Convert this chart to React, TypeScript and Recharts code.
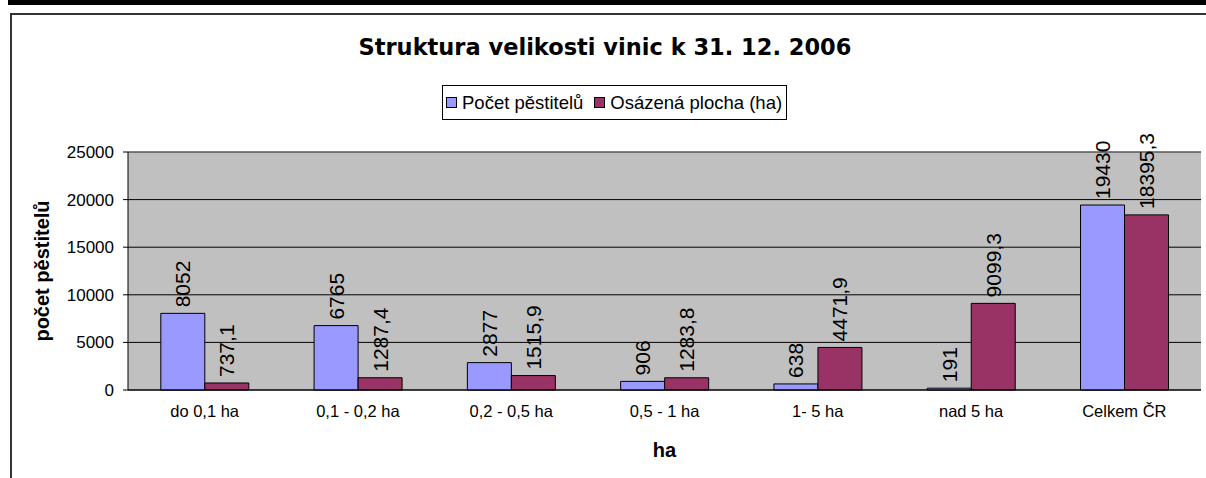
import React from "react";
import {
  BarChart,
  Bar,
  XAxis,
  YAxis,
  CartesianGrid,
  LabelList,
  ReferenceLine,
} from "recharts";

const categories = [
  "do 0,1 ha",
  "0,1 - 0,2 ha",
  "0,2 - 0,5 ha",
  "0,5 - 1 ha",
  "1- 5 ha",
  "nad 5 ha",
  "Celkem ČR",
];
const growers = [8052, 6765, 2877, 906, 638, 191, 19430];
const plantedArea = [737.1, 1287.4, 1515.9, 1283.8, 4471.9, 9099.3, 18395.3];
const yTicks = [0, 5000, 10000, 15000, 20000, 25000];
const boundaryTicks = [0, 1, 2, 3, 4, 5, 6, 7];

const data = categories.map((name, i) => ({
  name,
  growers: growers[i],
  area: plantedArea[i],
}));

const FONT = "'Liberation Sans', Arial, sans-serif";
const BLUE = "#9999FF";
const WINE = "#993366";

const fmt = (v: number) => String(v).replace(".", ",");

function ValueLabel(props: any) {
  const { x, y, width, value } = props;
  const cx = Number(x) + Number(width) / 2;
  const ty = Number(y) - 6;
  return (
    <text
      x={cx}
      y={ty}
      transform={`rotate(-90 ${cx} ${ty})`}
      textAnchor="start"
      dominantBaseline="central"
      fontSize={21}
      fontFamily={FONT}
      fill="#000"
    >
      {fmt(value)}
    </text>
  );
}

function YTitle(props: any) {
  const vb = props.viewBox || {};
  const x = vb.x + 49;
  const y = vb.y + vb.height / 2;
  return (
    <text
      x={x}
      y={y}
      transform={`rotate(-90 ${x} ${y})`}
      textAnchor="middle"
      fontSize={20}
      fontWeight="bold"
      fontFamily={FONT}
      fill="#000"
    >
      počet pěstitelů
    </text>
  );
}

function Swatch({ color }: { color: string }) {
  return (
    <span
      style={{
        display: "inline-block",
        width: 11,
        height: 11,
        boxSizing: "border-box",
        border: "1px solid #000",
        background: color,
        marginRight: 5,
      }}
    />
  );
}

export default function App() {
  return (
    <div
      style={{
        position: "absolute",
        left: 0,
        top: 0,
        width: 1206,
        height: 478,
        overflow: "hidden",
        background: "#fff",
      }}
    >
      {/* black strip at the very top */}
      <div
        style={{
          position: "absolute",
          left: 8,
          top: 0,
          width: 1300,
          height: 5,
          background: "#000",
        }}
      />
      {/* chart frame */}
      <div
        style={{
          position: "absolute",
          left: 10,
          top: 13,
          width: 1300,
          height: 600,
          border: "2px solid #333",
        }}
      />
      <div
        style={{
          position: "absolute",
          left: 0,
          top: 34,
          width: 1210,
          lineHeight: "26px",
          textAlign: "center",
          fontFamily: "'DejaVu Sans', sans-serif",
          fontWeight: 700,
          fontSize: 22.5,
          color: "#000",
        }}
      >
        Struktura velikosti vinic k 31. 12. 2006
      </div>
      <div
        style={{
          position: "absolute",
          left: 442,
          top: 85,
          height: 35,
          boxSizing: "border-box",
          border: "1px solid #000",
          display: "flex",
          alignItems: "center",
          padding: "0 4px 0 3px",
          fontFamily: FONT,
          fontSize: 18.5,
          color: "#000",
          background: "#fff",
        }}
      >
        <Swatch color={BLUE} />
        <span style={{ marginRight: 11 }}>Počet pěstitelů</span>
        <Swatch color={WINE} />
        <span>Osázená plocha (ha)</span>
      </div>
      <div style={{ position: "absolute", left: 0, top: 0 }}>
        <BarChart
          width={1206}
          height={478}
          data={data}
          margin={{ top: 152, right: 5, bottom: 0, left: 0 }}
          barCategoryGap="21.4%"
          barGap={0}
        >
          <CartesianGrid
            vertical={false}
            stroke="#000"
            fill="#C0C0C0"
            fillOpacity={1}
          />
          <XAxis
            xAxisId="bounds"
            type="number"
            domain={[0, 7]}
            ticks={boundaryTicks}
            height={0}
            tick={false}
            tickSize={5}
            tickLine={{ stroke: "#000" }}
            axisLine={false}
            allowDataOverflow
          />
          <XAxis
            dataKey="name"
            height={88}
            tickLine={false}
            tickSize={0}
            tickMargin={15}
            axisLine={{ stroke: "#000" }}
            tick={{ fontSize: 16.5, fill: "#000", fontFamily: FONT }}
            interval={0}
            label={{
              value: "ha",
              position: "insideBottom",
              offset: 21,
              fontSize: 20,
              fontWeight: "bold",
              fill: "#000",
              fontFamily: FONT,
            }}
          />
          <YAxis
            width={128}
            domain={[0, 25000]}
            ticks={yTicks}
            tickSize={5}
            tickMargin={9}
            tickLine={{ stroke: "#000" }}
            axisLine={{ stroke: "#000" }}
            tick={{ fontSize: 17, fill: "#000", fontFamily: FONT }}
            interval={0}
            label={<YTitle />}
          />
          <YAxis
            yAxisId="edge"
            orientation="right"
            width={0}
            domain={[0, 25000]}
            tick={false}
            tickLine={false}
            axisLine={{ stroke: "#808080" }}
          />
          <ReferenceLine y={25000} stroke="#808080" />
          <Bar
            dataKey="growers"
            fill={BLUE}
            stroke="#000"
            strokeWidth={1}
            isAnimationActive={false}
          >
            <LabelList dataKey="growers" content={<ValueLabel />} />
          </Bar>
          <Bar
            dataKey="area"
            fill={WINE}
            stroke="#000"
            strokeWidth={1}
            isAnimationActive={false}
          >
            <LabelList dataKey="area" content={<ValueLabel />} />
          </Bar>
        </BarChart>
      </div>
    </div>
  );
}
